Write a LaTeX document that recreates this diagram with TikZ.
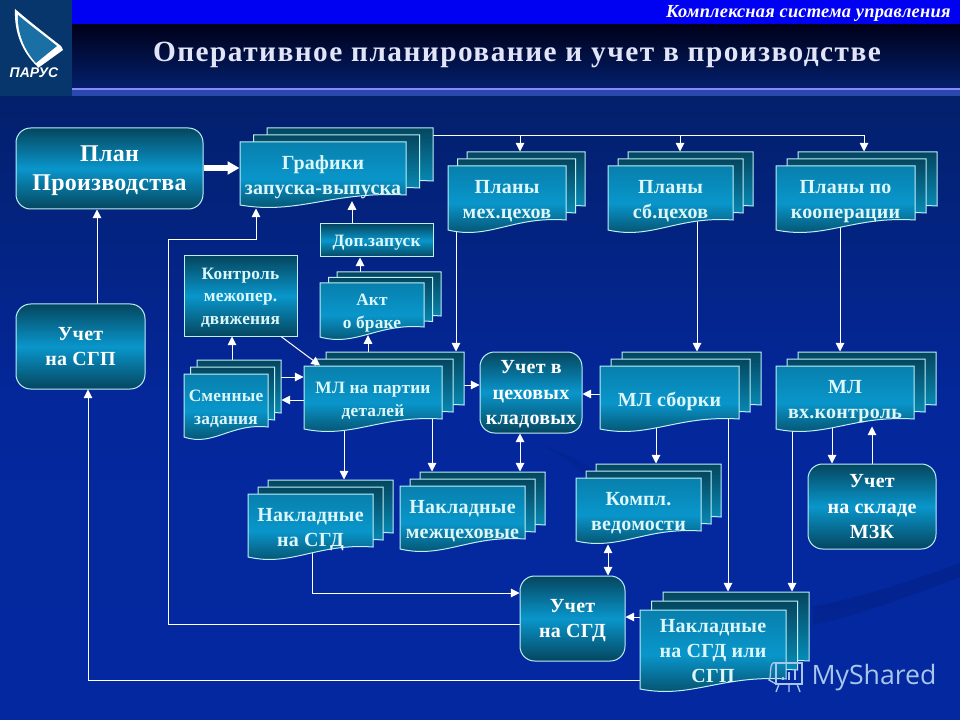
\documentclass[tikz,border=0pt]{standalone}
\usepackage{fontspec}
\setmainfont[LetterSpace=1.2]{Liberation Serif}
\newfontfamily\titlefont[LetterSpace=5]{Liberation Serif}
\newfontfamily\marksans{Open Sans}
\newfontfamily\logosans{Liberation Sans}
\usetikzlibrary{arrows.meta}

\definecolor{bgtop}{HTML}{03206C}
\definecolor{bgbot}{HTML}{0428A0}
\definecolor{edgecol}{HTML}{BDEFF7}
\definecolor{boxdark}{HTML}{05465F}
\definecolor{boxlight}{HTML}{0996CB}
\definecolor{labcol}{HTML}{DDF6FA}
\definecolor{markcol}{HTML}{A6C6EC}
\definecolor{logocol}{HTML}{06366B}
\definecolor{sailcol}{HTML}{1A6FA5}
\definecolor{titlecol}{HTML}{E2E5F7}

\pgfdeclarelayer{lines}
\pgfsetlayers{lines,main}

% one sheet with a wavy lower edge
\newcommand{\sheet}[5]{%
\path[#1,shift={(#2,#3)}] (0,0) -- (#4,0) -- (#4,#5)
 .. controls ({.55*#4},{#5-4}) and ({.35*#4},{#5+20}) .. (0,{#5+10}) -- cycle;}

% three sheets, node #1 on the front one and node #1b on the rear one
\newcommand{\docstack}[9]{%
\sheet{backsheet}{#2+2*#6}{#3-2*#7}{#4}{#5}
\sheet{backsheet}{#2+#6}{#3-#7}{#4}{#5}
\sheet{frontsheet}{#2}{#3}{#4}{#5}
\node[hidden,minimum width={#4*0.75pt},minimum height={#5*0.75pt}] (#1b) at ({#2+2*#6+#4/2},{#3-2*#7+#5/2}) {};
\node[hidden,#8,minimum width={#4*0.75pt},minimum height={(#5+13)*0.75pt}] (#1) at ({#2+#4/2},{#3+(#5+13)/2}) {#9};}

\newcommand{\vlink}[4][]{\draw[#1] (#2 -| #4,0) -- (#3 -| #4,0);}
\newcommand{\hlink}[4][]{\draw[#1] (#2 |- 0,#4) -- (#3 |- 0,#4);}

\begin{document}
\begin{tikzpicture}[x=0.75pt,y=-0.75pt,->,>={Triangle[length=6.5pt,width=6.5pt]},
 every path/.append style={color=white,line width=0.75pt},
 hidden/.style={inner sep=0pt,text=labcol,align=center},
 backsheet/.style={draw=edgecol,line width=0.75pt,top color=boxdark,bottom color=boxlight!90!cyan},
 frontsheet/.style={draw=edgecol,line width=0.75pt,top color=boxlight!85!black,bottom color=boxdark,middle color=boxlight},
 main node/.style={draw=edgecol,line width=0.75pt,inner sep=0pt,align=center,text=white,top color=boxdark,bottom color=boxdark,middle color=boxlight},
 round node/.style={main node,rounded corners=11pt},
 big/.style={text depth=-1pt,font=\fontsize{18}{21.8}\selectfont\bfseries},
 mid/.style={text depth=-1pt,font=\fontsize{15}{18.8}\selectfont\bfseries},
 low/.style={text depth=-1pt,font=\fontsize{13}{17}\selectfont\bfseries},
 fatarrow/.style={line width=4pt,-{Triangle[length=9pt,width=9.5pt]}}]

\useasboundingbox (0,0) rectangle (960,720);

\begin{pgfonlayer}{lines}
\path[top color=bgtop,bottom color=bgbot,middle color=bgbot!92!bgtop] (0,96) rectangle (960,720);
\path[fill=bgbot!75!black,opacity=.35] (813,607) .. controls (870,595) and (920,578) .. (960,563) -- (960,577) .. controls (920,592) and (870,612) .. (813,625) -- cycle;
\path[fill=bgbot!80!black,opacity=.3] (540,445) .. controls (590,470) and (620,500) .. (600,560) .. controls (640,510) and (620,470) .. cycle;
\path[top color=black!90!blue,bottom color=bgtop] (72,24) rectangle (960,88);
\path[fill=blue!95!black] (72,0) rectangle (960,24);
\path[fill=titlecol!60!blue] (72,88) rectangle (960,90);
\path[fill=bgbot!85!white] (72,90) rectangle (960,96);
\path[fill=logocol] (0,0) rectangle (72,96);
\end{pgfonlayer}

% header
\path[fill=white] (15,9) .. controls (30,22) and (48,36) .. (61,46) -- (63,50) -- (38,68) -- (37,66) .. controls (22,52) and (14,32) .. cycle;
\path[fill=sailcol] (18,15) .. controls (31,26) and (46,37) .. (57,46) -- (36,63) .. controls (24,50) and (17,32) .. cycle;
\node[inner sep=0pt,text=white,font=\logosans\fontsize{10.5}{12}\selectfont\bfseries\itshape] (logo) at (34,73) {ПАРУС};
\node[inner sep=0pt,anchor=east,text=white,font=\fontsize{13.8}{15}\selectfont\bfseries\itshape] (system) at (951,13.5) {Комплексная система управления};
\node[inner sep=0pt,text=titlecol,font=\titlefont\fontsize{22}{26}\selectfont\bfseries] (title) at (517,55) {Оперативное планирование и учет в производстве};

% boxes
\node[round node,big,minimum width=140.25pt,minimum height=60.75pt] (pp) at (109.5,168.5) {План\\Производства};
\node[round node,mid,minimum width=96.75pt,minimum height=63.75pt] (usp) at (80.5,346.5) {Учет\\на СГП};
\node[main node,low,text=labcol,text depth=0pt,minimum width=84.75pt,minimum height=24.75pt] (dop) at (376.5,240.5) {Доп.запуск};
\node[main node,low,text=labcol,minimum width=84.75pt,minimum height=60pt] (kon) at (240.5,296) {Контроль\\межопер.\\движения};
\node[round node,mid,minimum width=76.5pt,minimum height=60.75pt] (ukl) at (531,392.5) {Учет в\\цеховых\\кладовых};
\node[round node,mid,minimum width=96pt,minimum height=63.75pt] (usk) at (872,506.5) {Учет\\на складе\\МЗК};
\node[round node,mid,minimum width=78.75pt,minimum height=63.75pt] (usd) at (572.5,618.5) {Учет\\на СГД};

% documents
\docstack{gr}{240}{142}{166}{53}{13.5}{7}{mid}{Графики\\запуска-выпуска}
\docstack{plm}{448}{166}{118}{54}{9.5}{7}{mid}{Планы\\мех.цехов}
\docstack{pls}{608}{166}{125}{54}{10}{7}{mid}{Планы\\сб.цехов}
\docstack{plk}{776}{166}{139}{54}{11}{7}{mid}{Планы по\\кооперации}
\docstack{akt}{320}{283}{104}{44}{8.5}{5.5}{low}{Акт\\о браке}
\docstack{sm}{184}{374}{84}{53}{6.5}{7}{low}{Сменные\\задания}
\docstack{ml}{304}{366}{138}{53}{11}{7}{low}{МЛ на партии\\деталей}
\docstack{mc}{600}{366}{139}{53}{11}{7}{mid}{МЛ сборки}
\docstack{mv}{776}{366}{138}{53}{11}{7}{mid}{МЛ\\вх.контроль}
\docstack{nsd}{248}{494}{125}{53}{10}{7}{mid}{Накладные\\на СГД}
\docstack{nmc}{400}{486}{125}{53}{10}{7}{mid}{Накладные\\межцеховые}
\docstack{kv}{576}{478}{125}{53}{10}{7}{mid}{Компл.\\ведомости}
\docstack{ni}{640}{610}{146}{69}{11.5}{9}{mid}{Накладные\\на СГД или\\СГП}

\begin{pgfonlayer}{lines}
% top bus
\coordinate (bus) at (520,136);
\draw (grb.center |- bus) -| (plkb.north -| 864,0);
\vlink{bus}{plmb.north}{520}
\vlink{bus}{plsb.north}{680}

% from the plans
\vlink{plm.center}{mlb.north}{456}
\vlink{pls.center}{mcb.north}{697}
\vlink{plk.center}{mvb.north}{840}

% upwards
\vlink{usp.center}{pp.south}{97}
\vlink[shorten >=-5.5pt]{dop.center}{gr.south}{352}
\vlink{akt.center}{dop.south}{360}
\vlink[shorten >=-4pt]{mlb.center}{akt.south}{368}
\vlink{smb.center}{kon.south}{232}
\vlink[shorten >=-4.5pt]{usk.center}{mv.south}{872}

% round the sheets
\hlink{smb.center}{ml.west}{377}
\hlink{ml.center}{smb.east}{400}
\hlink{mlb.center}{ukl.west}{385}
\hlink{mc.center}{ukl.east}{394}
\hlink{ni.center}{usd.east}{617}

% downwards
\vlink{ml.center}{nsdb.north}{344}
\vlink{ml.center}{nmcb.north}{432}
\vlink[<->]{ukl.south}{nmcb.north}{520}
\vlink{mc.center}{kvb.north}{656}
\vlink{mc.center}{nib.north}{728}
\vlink{mv.center}{nib.north}{792}
\vlink{mv.center}{usk.north}{832}
\vlink[<->]{kv.south}{usd.north}{608}

% long ones
\coordinate (bend) at (168,240);
\draw (usd.center |- 0,624) -| (bend) -| (gr.south -| 256,0);
\draw (ni.center |- 0,680) -| (usp.south -| 88,0);
\draw (nsd.center -| 312,0) |- (usd.west |- 0,593);
\end{pgfonlayer}

\hlink[fatarrow]{pp.east}{gr.west}{168}
\draw (kon.south -| 281,0) -- (ml.north -| 320,0);

% watermark
\node[inner sep=0pt,anchor=west,text=markcol,font=\marksans\fontsize{20}{24}\selectfont] (mark) at (811,678) {MyShared};
\draw[-,draw=markcol,line width=1pt] (776,663) rectangle (802,684);
\draw[-,draw=markcol,line width=1pt] (776,663) .. controls (768,660) and (772,678) .. (769,680) -- (776,684);
\draw[-,draw=markcol,line width=1pt] (779,684) -- (776,692) (789,684) -- (789,692) (797,684) -- (800,692);
\draw[-,draw=markcol,line width=1.5pt] (783,680) -- (783,677) (789,680) -- (789,672) (795,680) -- (795,669);

\end{tikzpicture}
\end{document}
